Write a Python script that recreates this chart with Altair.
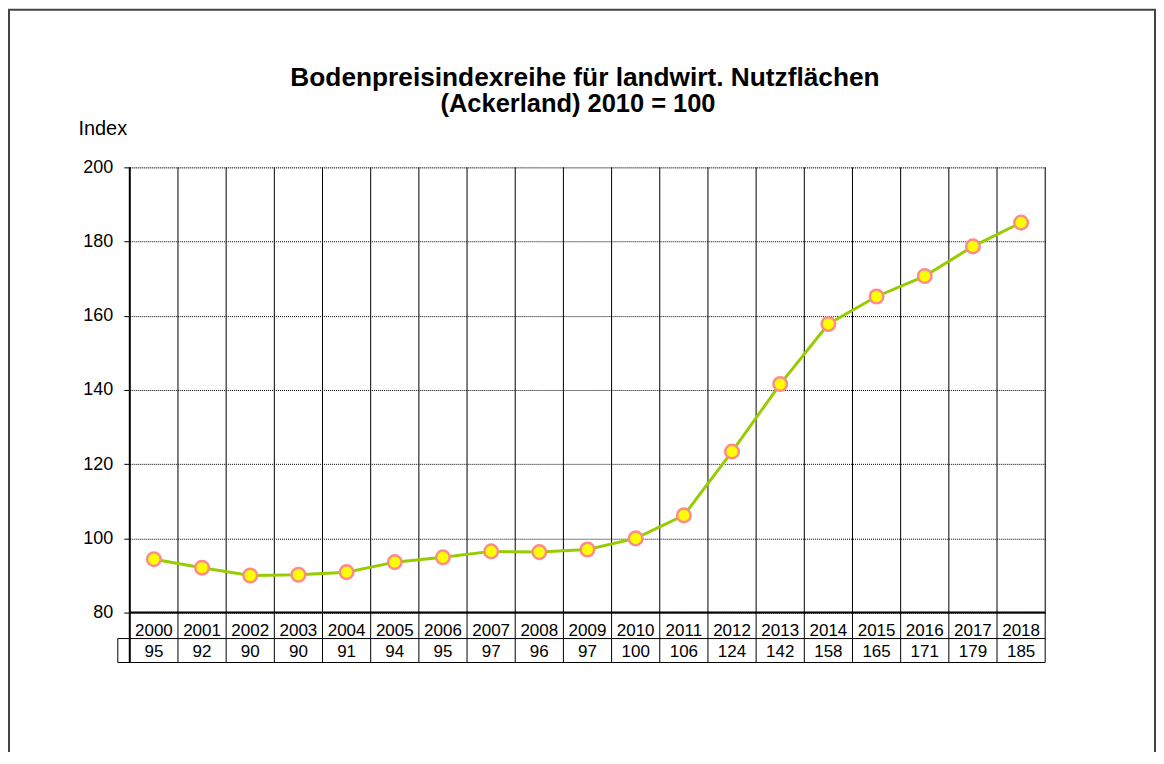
import altair as alt
import pandas as pd

# ---- data ----
years = ["2000", "2001", "2002", "2003", "2004", "2005", "2006", "2007", "2008", "2009",
         "2010", "2011", "2012", "2013", "2014", "2015", "2016", "2017", "2018"]
index_values = [94.4, 92.1, 90.0, 90.2, 90.9, 93.6, 94.9, 96.5, 96.3, 97.0,
                100.0, 106.2, 123.4, 141.6, 157.8, 165.2, 170.7, 178.7, 185.1]
table_labels = [95, 92, 90, 90, 91, 94, 95, 97, 96, 97,
                100, 106, 124, 142, 158, 165, 171, 179, 185]
y_ticks = [80, 100, 120, 140, 160, 180, 200]
title_lines = ["Bodenpreisindexreihe für landwirt. Nutzflächen", "(Ackerland) 2010 = 100"]

FONT = "Liberation Sans"
W, H = 917, 446

df = pd.DataFrame({
    "idx": list(range(len(years))),
    "year": years,
    "value": index_values,
    "label": [str(v) for v in table_labels],
})
bounds = pd.DataFrame({"b": [i + 0.5 for i in range(len(years) - 1)]})
one = pd.DataFrame({"k": [0]})

xscale = alt.Scale(domain=[-0.5, len(years) - 0.5], nice=False, zero=False)
yscale = alt.Scale(domain=[80, 200], nice=False, zero=False)
x_enc = alt.X("idx:Q", scale=xscale, axis=None)

# outer border of the whole picture
border = alt.Chart(one).mark_rect(filled=False, stroke="#444444", strokeWidth=2).encode(
    x=alt.value(-121), x2=alt.value(1027), y=alt.value(-158), y2=alt.value(620)
)

# vertical column separators (plot + table)
vlines = alt.Chart(bounds).mark_rule(color="black", strokeWidth=1).encode(
    x=alt.X("b:Q", scale=xscale, axis=None), y=alt.value(0), y2=alt.value(496)
)

left_line = alt.Chart(one).mark_rule(color="black", strokeWidth=2).encode(
    x=alt.value(0), y=alt.value(0), y2=alt.value(496))
right_line = alt.Chart(one).mark_rule(color="black", strokeWidth=1).encode(
    x=alt.value(W), y=alt.value(0), y2=alt.value(496))
bottom_line = alt.Chart(one).mark_rule(color="black", strokeWidth=2).encode(
    x=alt.value(0), x2=alt.value(W), y=alt.value(H))
row_line = alt.Chart(one).mark_rule(color="black", strokeWidth=1).encode(
    x=alt.value(-12), x2=alt.value(W), y=alt.value(472))
table_bottom = alt.Chart(one).mark_rule(color="black", strokeWidth=1).encode(
    x=alt.value(-12), x2=alt.value(W), y=alt.value(496))
table_left = alt.Chart(one).mark_rule(color="black", strokeWidth=1).encode(
    x=alt.value(-12), y=alt.value(472), y2=alt.value(496))

base = alt.Chart(df)

year_text = base.mark_text(fontSize=17, font=FONT, color="black", baseline="alphabetic").encode(
    x=x_enc, y=alt.value(469), text="year:N")
value_text = base.mark_text(fontSize=17, font=FONT, color="black", baseline="alphabetic").encode(
    x=x_enc, y=alt.value(490), text="label:N")

y_axis = alt.Axis(
    values=y_ticks, title="Index", titleAngle=0, titleX=-52, titleY=-33,
    titleAlign="left", titleBaseline="alphabetic", titleFontSize=20,
    titleFontWeight="normal", titleColor="black", titleFont=FONT,
    labelFontSize=18, labelColor="black", labelFont=FONT, labelPadding=11,
    tickSize=6, tickColor="black", tickWidth=1, domain=False,
    grid=True, gridColor="black", gridDash=[1, 1], gridWidth=1, gridOpacity=1,
)

line = base.mark_line(color="#99CC00", strokeWidth=3).encode(
    x=x_enc, y=alt.Y("value:Q", scale=yscale, axis=y_axis))
points = base.mark_circle(color="#FFFF00", stroke="#FF8A8A", strokeWidth=2.5, size=185, opacity=1).encode(
    x=x_enc, y=alt.Y("value:Q", scale=yscale))

title1 = alt.Chart(one).mark_text(text=title_lines[0], fontSize=26.3, fontWeight="bold", font=FONT,
                                  color="black", align="center", baseline="alphabetic").encode(
    x=alt.value(456), y=alt.value(-82))
title2 = alt.Chart(one).mark_text(text=title_lines[1], fontSize=25.5, fontWeight="bold", font=FONT,
                                  color="black", align="center", baseline="alphabetic").encode(
    x=alt.value(449), y=alt.value(-55))

chart = alt.layer(
    border, vlines, left_line, right_line, bottom_line, row_line, table_bottom, table_left,
    year_text, value_text, line, points, title1, title2
).properties(
    width=W, height=H,
    padding={"left": 122, "top": 159, "right": 111, "bottom": 139},
    autosize=alt.AutoSizeParams(type="none"),
).configure_view(stroke=None).configure(background="white")

chart.save("out.html", embed_options={"renderer": "svg", "actions": False})
